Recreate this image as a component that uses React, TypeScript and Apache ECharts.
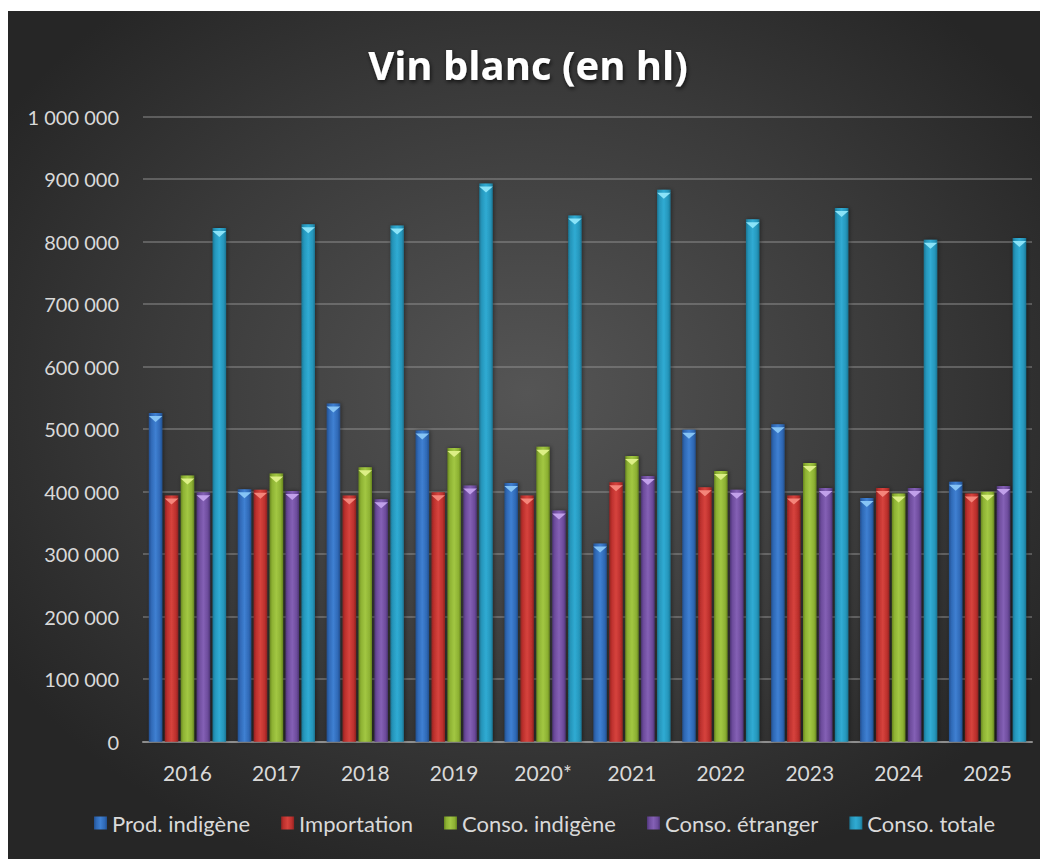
import React, { useEffect, useRef } from "react";
import * as echarts from "echarts";

const years = ["2016", "2017", "2018", "2019", "2020*", "2021", "2022", "2023", "2024", "2025"];
const seriesNames = ["Prod. indigène", "Importation", "Conso. indigène", "Conso. étranger", "Conso. totale"];
const prodIndigene = [526000, 404000, 541000, 498000, 414000, 317000, 499000, 508000, 390000, 416000];
const importation = [394000, 403000, 394000, 399000, 394000, 415000, 407000, 394000, 406000, 397000];
const consoIndigene = [426000, 429000, 439000, 470000, 472000, 457000, 433000, 446000, 397000, 400000];
const consoEtranger = [399000, 401000, 388000, 410000, 370000, 425000, 403000, 406000, 406000, 409000];
const consoTotale = [822000, 828000, 826000, 893000, 842000, 883000, 836000, 854000, 803000, 806000];
const allValues = [prodIndigene, importation, consoIndigene, consoEtranger, consoTotale];

const palette = [
  { dark: "#23508f", base: "#2f69b6", light: "#3f80d2", top: "#86c4f5" },
  { dark: "#8f2321", base: "#bc302d", light: "#d6433d", top: "#f4857a" },
  { dark: "#66851f", base: "#8db133", light: "#a2c743", top: "#dcef86" },
  { dark: "#4e3578", base: "#6d4c9c", light: "#8460b5", top: "#c1a0ea" },
  { dark: "#1a7593", base: "#2696bb", light: "#30abd3", top: "#8ae3f8" },
];

const fmt = (v: number) => String(v).replace(/\B(?=(\d{3})+(?!\d))/g, " ");

export default function App() {
  const ref = useRef<HTMLDivElement>(null);
  useEffect(() => {
    if (!ref.current) return;
    const chart = echarts.init(ref.current, null, { renderer: "svg" });
    const BW = 13.5;
    const GAP = "18%";
    const barSeries: any[] = allValues.map((vals, i) => ({
      name: seriesNames[i],
      type: "bar",
      data: vals,
      barWidth: BW,
      barGap: GAP,
      itemStyle: {
        color: new echarts.graphic.LinearGradient(0, 0, 1, 0, [
          { offset: 0, color: palette[i].dark },
          { offset: 0.18, color: palette[i].base },
          { offset: 0.5, color: palette[i].light },
          { offset: 0.82, color: palette[i].base },
          { offset: 1, color: palette[i].dark },
        ]),
        shadowColor: "rgba(0,0,0,0.45)",
        shadowBlur: 4,
        shadowOffsetX: 1,
      },
      z: 2,
    }));
    const topSeries: any[] = allValues.map((vals, i) => ({
      name: "_top" + i,
      type: "pictorialBar",
      data: vals,
      barWidth: BW,
      barGap: GAP,
      symbol: "path://M0,0 L10,0 L5,5 Z",
      symbolSize: [BW, 6],
      symbolPosition: "end",
      symbolOffset: [0, "50%"],
      itemStyle: { color: palette[i].top },
      z: 3,
      silent: true,
    }));
    chart.setOption({
      animation: false,
      backgroundColor: "transparent",
      textStyle: { fontFamily: "Lato" },
      title: {
        text: "Vin blanc (en hl)",
        left: "center",
        top: 24,
        textStyle: {
          color: "#ffffff",
          fontFamily: "Open Sans",
          fontWeight: "bold",
          fontSize: 40,
          lineHeight: 48,
          textShadowColor: "rgba(0,0,0,0.7)",
          textShadowBlur: 4,
          textShadowOffsetX: 1,
          textShadowOffsetY: 2,
        },
      },
      legend: {
        data: seriesNames,
        bottom: 20,
        left: 81,
        icon: "rect",
        itemWidth: 13,
        itemHeight: 13,
        itemGap: 31,
        textStyle: { color: "#d9d9d9", fontSize: 22, fontFamily: "Lato" },
      },
      grid: { left: 135, right: 16, top: 105.7, bottom: 117.3, containLabel: false },
      xAxis: {
        type: "category",
        data: years,
        axisTick: { show: false },
        axisLine: { lineStyle: { color: "#8e8e8e", width: 2 } },
        axisLabel: { color: "#d9d9d9", fontSize: 21, margin: 20, fontFamily: "Lato" },
        splitLine: { show: false },
      },
      yAxis: {
        type: "value",
        min: 0,
        max: 1000000,
        interval: 100000,
        axisLine: { show: false },
        axisTick: { show: false },
        axisLabel: { color: "#d9d9d9", fontSize: 20, margin: 24, fontFamily: "Lato", formatter: fmt },
        splitLine: { lineStyle: { color: "rgba(150,150,150,0.45)", width: 2 } },
      },
      series: [...barSeries, ...topSeries],
    });
    return () => chart.dispose();
  }, []);
  return (
    <div
      ref={ref}
      style={{
        width: 1040,
        height: 848,
        marginTop: 3,
        background: "radial-gradient(ellipse 60% 60% at 50% 45%, #555555 0%, #3a3a3a 60%, #262626 100%)",
      }}
    />
  );
}
